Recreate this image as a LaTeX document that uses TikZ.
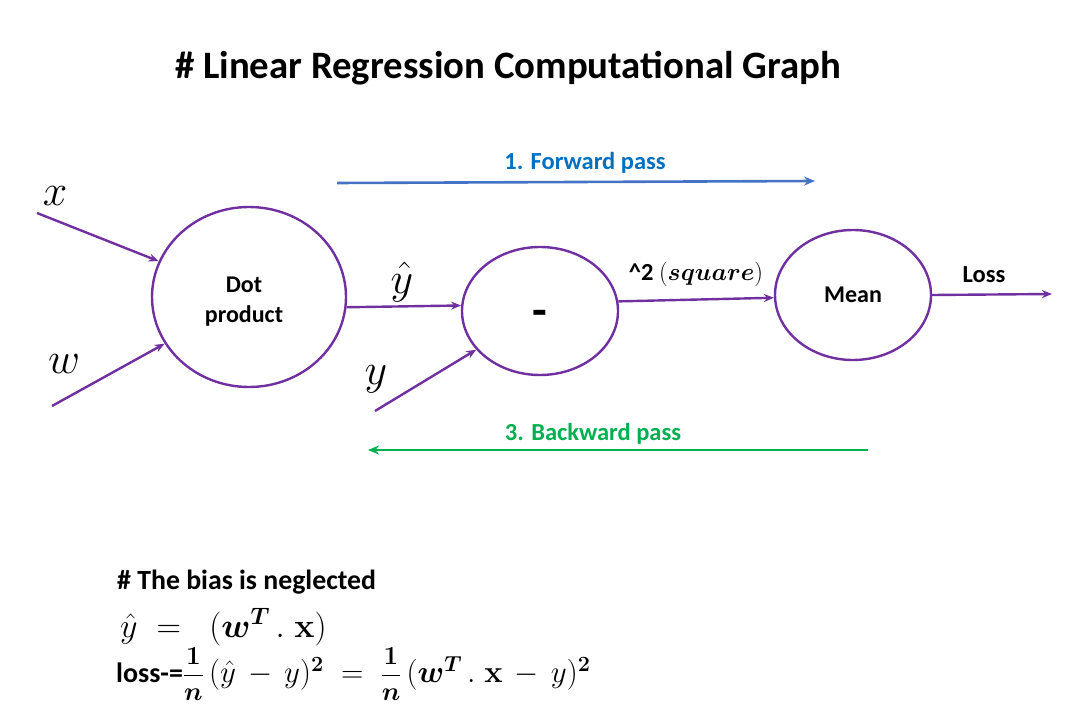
\RequirePackage{fix-cm}
\documentclass[tikz,border=0pt]{standalone}
\usepackage{amsmath}
\usepackage{bm}
\usepackage[no-math]{fontspec}
\setmainfont{Carlito}
\usetikzlibrary{arrows.meta,shapes.geometric}
\definecolor{purp}{HTML}{7030A0}
\definecolor{fwdline}{HTML}{4472C4}
\definecolor{fwdtext}{HTML}{0070C0}
\definecolor{bwd}{HTML}{00B050}
\newcommand{\onen}{\mbox{\fontsize{26}{30}\selectfont$\dfrac{\bm{1}}{\bm{n}}$}}
\begin{document}
\begin{tikzpicture}[x=1pt,y=-1pt,
  conn/.style={draw=purp, line width=2.4pt, -{Stealth[length=10pt,width=8pt]}},
  op/.style={ellipse, draw=purp, line width=2.4pt, inner sep=0pt, align=center, font=\fontsize{24}{30}\selectfont\bfseries},
  lbl/.style={inner sep=0pt, font=\fontsize{24.5}{29}\selectfont\bfseries},
  var/.style={inner sep=0pt, font=\fontsize{44}{50}\selectfont},
  pass/.style={line width=2.6pt, -{Stealth[length=11pt,width=9pt]}}]
\useasboundingbox (0,0) rectangle (1092,719);
% title
\node[inner sep=0pt, font=\fontsize{38.8}{44}\selectfont\bfseries] (title) at (508,68) {\# Linear Regression Computational Graph};
% nodes
\node[op, minimum width=194pt, minimum height=180pt] (dot) at (249,297) {};
\node[inner sep=0pt, align=center, font=\fontsize{24}{30}\selectfont\bfseries] (dotlbl) at (244,302) {Dot\\product};
\node[op, minimum width=156pt, minimum height=128pt] (minus) at (540,311) {};
\node[inner sep=0pt, font=\fontsize{48}{52}\selectfont\bfseries] (minuslbl) at (540,318) {-};
\node[op, minimum width=156pt, minimum height=130pt] (mean) at (853,295) {Mean};
% inputs
\node[var] (xl) at (55,196) {$x$};
\node[var] (wl) at (64,364) {$w$};
\node[var] (yl) at (376,379) {$y$};
\node[var] (yhl) at (402,282) {$\hat{y}$};
\coordinate (xs) at (37,213);
\coordinate (ws) at (52,406);
\coordinate (ys) at (375,411);
\coordinate (le) at (1052,294);
\draw[conn] (xs) -- (dot);
\draw[conn] (ws) -- (dot);
\draw[conn] (ys) -- (minus);
\draw[conn] (dot.-6) -- (minus.176);
\draw[conn] (minus.7) -- (mean.182);
\draw[conn] (mean.east) -- (le);
\node[lbl] (sq) at (696,274) {\^{}2 $(\bm{square})$};
\node[lbl] (loss) at (984,275) {Loss};
% passes
\coordinate (fs) at (337,183);
\coordinate (fe) at (815,181);
\draw[pass, fwdline] (fs) -- (fe);
\node[lbl, text=fwdtext] (fwd) at (585,163) {1. Forward pass};
\coordinate (bs) at (868,450);
\coordinate (be) at (368,450);
\draw[pass, bwd] (bs) -- (be);
\node[lbl, text=bwd] (bwdl) at (593,434) {3. Backward pass};
% bottom
\node[anchor=west, inner sep=0pt, font=\fontsize{27.8}{32}\selectfont\bfseries] (bias) at (117,582) {\# The bias is neglected};
\node[anchor=west, inner sep=0pt, font=\fontsize{34}{40}\selectfont] (eq1) at (120,627) {$\hat{y} \;=\;\; (\bm{w}^{\bm{T}}\,.\;\mathbf{x})$};
\node[anchor=west, inner sep=0pt, font=\fontsize{31}{36}\selectfont] (eq2) at (116,674) {{\fontsize{28}{32}\selectfont\bfseries loss-=}$\onen\,(\hat{y}\,-\,y)^{\bm{2}} \;=\; \onen\,(\bm{w}^{\bm{T}}\,.\;\mathbf{x}\,-\,y)^{\bm{2}}$};
\end{tikzpicture}
\end{document}
